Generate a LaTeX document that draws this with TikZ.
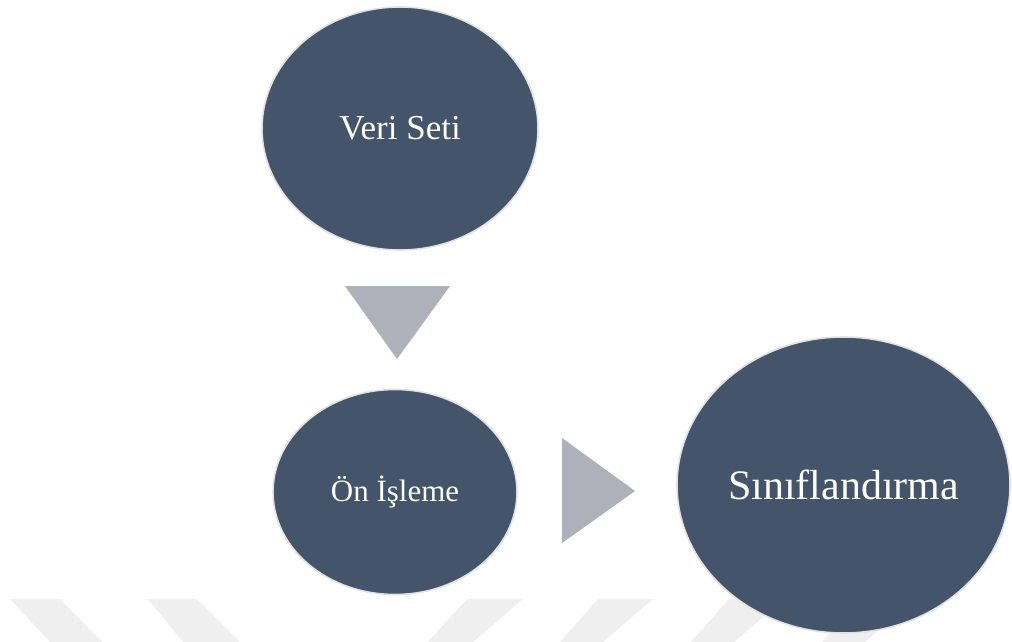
\documentclass[tikz,border=0pt]{standalone}
\usepackage{fontspec}
\setmainfont{Liberation Serif}
\usetikzlibrary{shapes.geometric}
\definecolor{stepfill}{HTML}{44546A}
\definecolor{stepedge}{HTML}{E2E2E4}
\definecolor{flowtri}{HTML}{AEB1B9}
\definecolor{stripe}{HTML}{EFEFEF}
\tikzset{
  stepnode/.style={ellipse, fill=stepfill, draw=stepedge, line width=1.6pt,
    inner sep=0pt, text=white},
  flowarrow/.style={fill=flowtri},
  bgstripe/.style={fill=stripe},
}
\begin{document}
\begin{tikzpicture}[x=1pt,y=-1pt]
  \useasboundingbox (0,0) rectangle (1012,642);
  \fill[white] (0,0) rectangle (1012,642);

  % light diagonal bands along the bottom edge
  \fill[bgstripe] (10,599) -- (60,599) -- (102,642) -- (50,642) -- cycle;
  \fill[bgstripe] (148,599) -- (197,599) -- (240,642) -- (183,642) -- cycle;
  \fill[bgstripe] (467,599) -- (523,599) -- (473,642) -- (428,642) -- cycle;
  \fill[bgstripe] (598,599) -- (653,599) -- (603,642) -- (560,642) -- cycle;
  \fill[bgstripe] (729,599) -- (784,599) -- (734,642) -- (691,642) -- cycle;
  \fill[bgstripe] (860,599) -- (915,599) -- (865,642) -- (822,642) -- cycle;

  % process steps
  \node[stepnode, minimum width=276pt, minimum height=243pt, font=\fontsize{35}{40}\selectfont]
    (veri) at (400,128.5) {Veri Seti};
  \node[stepnode, minimum width=244pt, minimum height=205pt, font=\fontsize{31}{36}\selectfont]
    (onisleme) at (395,492) {Ön İşleme};
  \node[stepnode, minimum width=333pt, minimum height=296pt, font=\fontsize{42}{48}\selectfont]
    (sinif) at (843.5,485) {Sınıflandırma};

  % flow arrows between the steps
  \coordinate (d1) at (345,286);
  \coordinate (d2) at (450,286);
  \coordinate (d3) at (397,359);
  \fill[flowarrow] (d1) -- (d2) -- (d3) -- cycle;
  \coordinate (r1) at (562,438);
  \coordinate (r2) at (562,543);
  \coordinate (r3) at (635,491);
  \fill[flowarrow] (r1) -- (r2) -- (r3) -- cycle;
\end{tikzpicture}
\end{document}
